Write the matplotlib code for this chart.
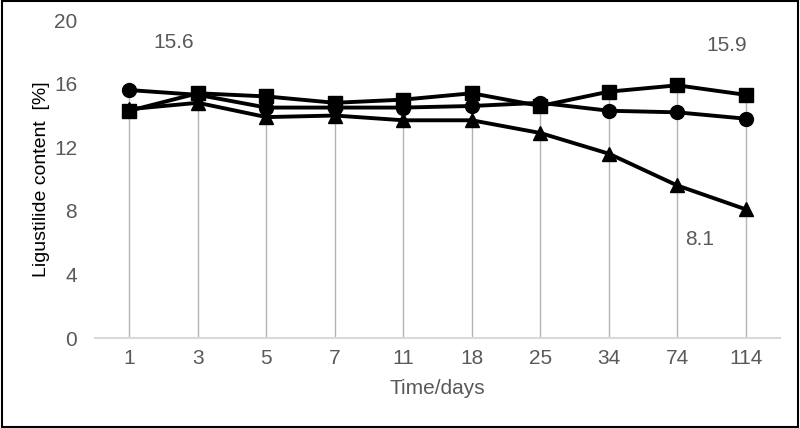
import numpy as np
import matplotlib.pyplot as plt
from matplotlib.patches import Rectangle

plt.rcParams['font.family'] = ['Liberation Sans', 'DejaVu Sans']

# categories (days) and the three series
days = ['1', '3', '5', '7', '11', '18', '25', '34', '74', '114']
circle_vals = [15.6, 15.3, 14.5, 14.5, 14.5, 14.6, 14.8, 14.3, 14.2, 13.8]
square_vals = [14.3, 15.4, 15.2, 14.8, 15.0, 15.4, 14.6, 15.5, 15.9, 15.3]
triangle_vals = [14.4, 14.8, 13.9, 14.0, 13.7, 13.7, 12.9, 11.6, 9.6, 8.1]

fig = plt.figure(figsize=(8, 4.28), dpi=100)
ax = fig.add_axes([0.119, 0.21, 0.856, 0.743])
x = np.arange(len(days))

# drop lines from top marker down to the axis
tops = np.max([circle_vals, square_vals, triangle_vals], axis=0)
ax.vlines(x, 0, tops, color='#b3b3b3', lw=1.0, zorder=1)

ax.plot(x, triangle_vals, color='black', lw=2.8, marker='^', ms=10, zorder=3)
ax.plot(x, circle_vals, color='black', lw=2.8, marker='o', ms=10, zorder=3)
ax.plot(x, square_vals, color='black', lw=2.8, marker='s', ms=10, zorder=4)

gray = '#595959'
fs = 15
ax.text(0.65, 18.6, '15.6', color=gray, fontsize=fs, ha='center', va='center')
ax.text(8.72, 18.4, '15.9', color=gray, fontsize=fs, ha='center', va='center')
ax.text(8.33, 6.2, '8.1', color=gray, fontsize=fs, ha='center', va='center')

ax.set_xlim(-0.5, len(days) - 0.5)
ax.set_ylim(0, 20)
ax.set_yticks([0, 4, 8, 12, 16, 20])
ax.set_xticks(x)
ax.set_xticklabels(days)
ax.tick_params(axis='both', length=0, labelsize=fs, colors=gray)
ax.tick_params(axis='x', pad=8)
ax.tick_params(axis='y', pad=13)

for s in ['top', 'right', 'left']:
    ax.spines[s].set_visible(False)
ax.spines['bottom'].set_color('#d9d9d9')
ax.spines['bottom'].set_linewidth(1.5)

ax.set_xlabel('Time/days', fontsize=fs, color=gray, labelpad=8)
ax.set_ylabel('Ligustilide content  [%]', fontsize=14, color='black', labelpad=3)

fig.patches.append(Rectangle((0.002, 0.003), 0.996, 0.994, transform=fig.transFigure,
                             fill=False, edgecolor='black', lw=1.5))

fig.savefig('out.png', dpi=100)
